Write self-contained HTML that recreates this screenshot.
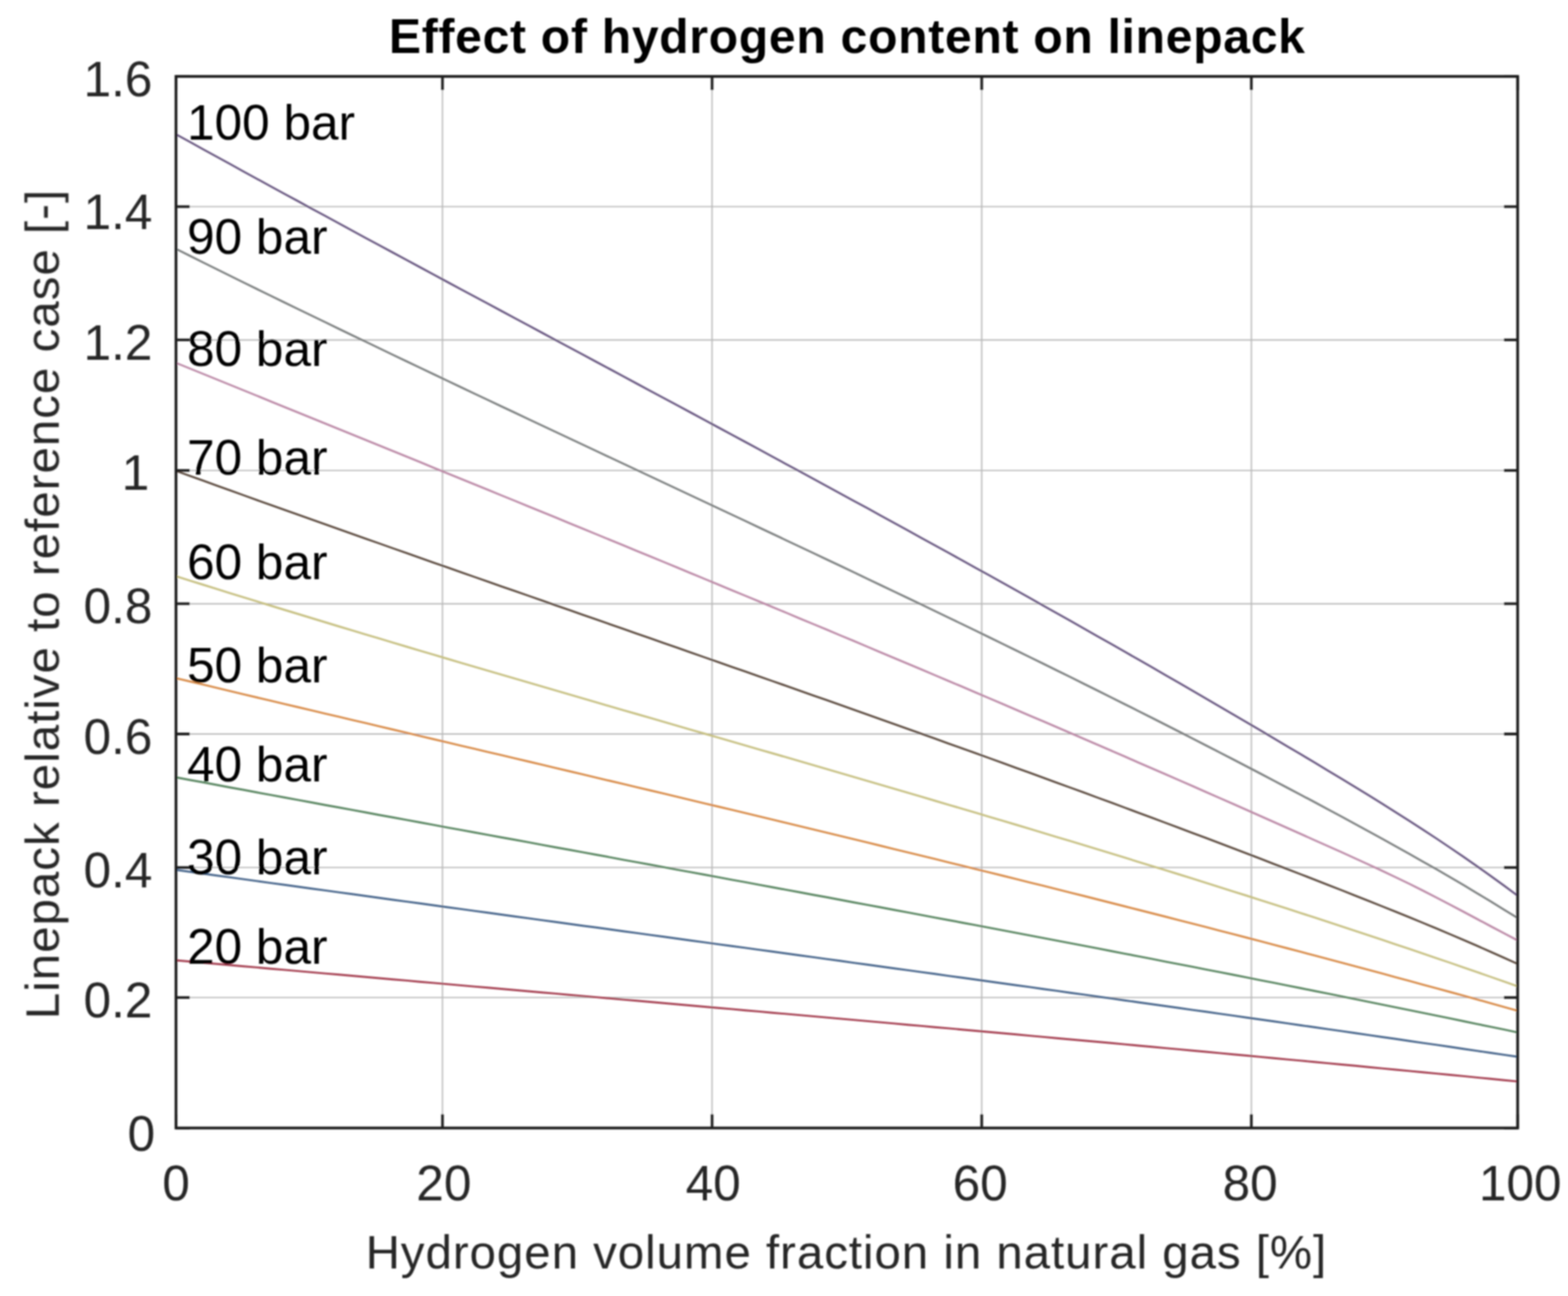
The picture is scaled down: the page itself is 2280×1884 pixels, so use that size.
<!DOCTYPE html><html><head><meta charset="utf-8"><title>Effect of hydrogen content on linepack</title>
<style>html,body{margin:0;padding:0;background:#fff;}svg{display:block;}text{font-family:"Liberation Sans",Arial,Helvetica,sans-serif;}</style></head><body>
<svg width="2280" height="1884" viewBox="0 0 2280 1884">
<rect x="0" y="0" width="2280" height="1884" fill="#fff"/>
<defs><filter id="b" x="-2%" y="-2%" width="104%" height="104%"><feGaussianBlur stdDeviation="1.1"/></filter></defs>
<g filter="url(#b)">
<path d="M643.4 111.1V1639.8M1035.4 111.1V1639.8M1427.5 111.1V1639.8M1819.6 111.1V1639.8M255.9 300.4H2206.8M255.9 494.2H2206.8M255.9 683.9H2206.8M255.9 877.7H2206.8M255.9 1067.0H2206.8M255.9 1261.1H2206.8M255.9 1450.1H2206.8" stroke="#b9b9b9" stroke-width="1.9" fill="none"/>
<path d="M255.9 195.2 L275.6 206.1 L295.3 217.0 L315.0 227.8 L334.7 238.6 L354.4 249.4 L374.1 260.2 L393.8 271.0 L413.5 281.7 L433.3 292.4 L453.0 303.2 L472.7 313.8 L492.4 324.5 L512.1 335.2 L531.8 345.9 L551.5 356.5 L571.2 367.1 L590.9 377.8 L610.6 388.4 L630.3 399.0 L650.0 409.6 L669.7 420.2 L689.4 430.8 L709.1 441.3 L728.8 451.9 L748.6 462.5 L768.3 473.0 L788.0 483.6 L807.7 494.2 L827.4 504.7 L847.1 515.3 L866.8 525.9 L886.5 536.4 L906.2 547.0 L925.9 557.6 L945.6 568.2 L965.3 578.7 L985.0 589.3 L1004.7 599.9 L1024.4 610.5 L1044.1 621.1 L1063.8 631.8 L1083.6 642.4 L1103.3 653.0 L1123.0 663.7 L1142.7 674.4 L1162.4 685.0 L1182.1 695.7 L1201.8 706.4 L1221.5 717.2 L1241.2 727.9 L1260.9 738.6 L1280.6 749.4 L1300.3 760.2 L1320.0 771.0 L1339.7 781.9 L1359.4 792.7 L1379.1 803.6 L1398.9 814.5 L1418.6 825.4 L1438.3 836.3 L1458.0 847.3 L1477.7 858.3 L1497.4 869.3 L1517.1 880.4 L1536.8 891.4 L1556.5 902.6 L1576.2 913.7 L1595.9 924.9 L1615.6 936.1 L1635.3 947.3 L1655.0 958.6 L1674.7 969.8 L1694.4 981.2 L1714.1 992.5 L1733.9 1003.9 L1753.6 1015.4 L1773.3 1026.9 L1793.0 1038.4 L1812.7 1049.9 L1832.4 1061.5 L1852.1 1073.2 L1871.8 1084.9 L1891.5 1096.6 L1911.2 1108.3 L1930.9 1120.2 L1950.6 1132.0 L1970.3 1144.0 L1990.0 1156.1 L2009.7 1168.3 L2029.4 1180.7 L2049.2 1193.2 L2068.9 1206.0 L2088.6 1218.9 L2108.3 1232.1 L2128.0 1245.5 L2147.7 1259.2 L2167.4 1273.2 L2187.1 1287.5 L2206.8 1302.1" stroke="#685680" stroke-width="2.9" fill="none" stroke-linejoin="round"/>
<path d="M255.9 361.8 L275.6 371.6 L295.3 381.5 L315.0 391.2 L334.7 401.0 L354.4 410.7 L374.1 420.4 L393.8 430.0 L413.5 439.6 L433.3 449.2 L453.0 458.8 L472.7 468.3 L492.4 477.9 L512.1 487.4 L531.8 496.8 L551.5 506.3 L571.2 515.7 L590.9 525.1 L610.6 534.5 L630.3 543.9 L650.0 553.3 L669.7 562.6 L689.4 572.0 L709.1 581.3 L728.8 590.6 L748.6 599.9 L768.3 609.2 L788.0 618.5 L807.7 627.7 L827.4 637.0 L847.1 646.3 L866.8 655.5 L886.5 664.8 L906.2 674.0 L925.9 683.3 L945.6 692.5 L965.3 701.8 L985.0 711.0 L1004.7 720.3 L1024.4 729.5 L1044.1 738.8 L1063.8 748.0 L1083.6 757.3 L1103.3 766.6 L1123.0 775.9 L1142.7 785.2 L1162.4 794.5 L1182.1 803.8 L1201.8 813.1 L1221.5 822.4 L1241.2 831.8 L1260.9 841.2 L1280.6 850.6 L1300.3 860.0 L1320.0 869.4 L1339.7 878.8 L1359.4 888.3 L1379.1 897.8 L1398.9 907.3 L1418.6 916.8 L1438.3 926.4 L1458.0 936.0 L1477.7 945.6 L1497.4 955.2 L1517.1 964.9 L1536.8 974.6 L1556.5 984.3 L1576.2 994.1 L1595.9 1003.9 L1615.6 1013.7 L1635.3 1023.6 L1655.0 1033.5 L1674.7 1043.4 L1694.4 1053.4 L1714.1 1063.4 L1733.9 1073.5 L1753.6 1083.6 L1773.3 1093.7 L1793.0 1103.9 L1812.7 1114.1 L1832.4 1124.4 L1852.1 1134.7 L1871.8 1145.1 L1891.5 1155.5 L1911.2 1165.9 L1930.9 1176.5 L1950.6 1187.0 L1970.3 1197.7 L1990.0 1208.4 L2009.7 1219.2 L2029.4 1230.2 L2049.2 1241.2 L2068.9 1252.4 L2088.6 1263.6 L2108.3 1275.1 L2128.0 1286.6 L2147.7 1298.4 L2167.4 1310.3 L2187.1 1322.4 L2206.8 1334.6" stroke="#7a7e7e" stroke-width="2.9" fill="none" stroke-linejoin="round"/>
<path d="M255.9 527.5 L275.6 535.5 L295.3 543.5 L315.0 551.5 L334.7 559.5 L354.4 567.5 L374.1 575.5 L393.8 583.6 L413.5 591.6 L433.3 599.6 L453.0 607.6 L472.7 615.6 L492.4 623.6 L512.1 631.6 L531.8 639.6 L551.5 647.7 L571.2 655.7 L590.9 663.7 L610.6 671.7 L630.3 679.8 L650.0 687.8 L669.7 695.8 L689.4 703.9 L709.1 711.9 L728.8 720.0 L748.6 728.0 L768.3 736.1 L788.0 744.2 L807.7 752.2 L827.4 760.3 L847.1 768.4 L866.8 776.5 L886.5 784.6 L906.2 792.7 L925.9 800.8 L945.6 808.9 L965.3 817.0 L985.0 825.2 L1004.7 833.3 L1024.4 841.5 L1044.1 849.6 L1063.8 857.8 L1083.6 866.0 L1103.3 874.1 L1123.0 882.3 L1142.7 890.5 L1162.4 898.8 L1182.1 907.0 L1201.8 915.2 L1221.5 923.5 L1241.2 931.7 L1260.9 940.0 L1280.6 948.3 L1300.3 956.6 L1320.0 964.9 L1339.7 973.2 L1359.4 981.5 L1379.1 989.9 L1398.9 998.2 L1418.6 1006.6 L1438.3 1015.0 L1458.0 1023.4 L1477.7 1031.8 L1497.4 1040.3 L1517.1 1048.7 L1536.8 1057.2 L1556.5 1065.6 L1576.2 1074.1 L1595.9 1082.6 L1615.6 1091.2 L1635.3 1099.7 L1655.0 1108.3 L1674.7 1116.8 L1694.4 1125.4 L1714.1 1134.0 L1733.9 1142.7 L1753.6 1151.3 L1773.3 1160.0 L1793.0 1168.7 L1812.7 1177.4 L1832.4 1186.1 L1852.1 1194.8 L1871.8 1203.6 L1891.5 1212.4 L1911.2 1221.2 L1930.9 1230.0 L1950.6 1238.8 L1970.3 1247.7 L1990.0 1256.7 L2009.7 1265.9 L2029.4 1275.2 L2049.2 1284.7 L2068.9 1294.6 L2088.6 1304.7 L2108.3 1315.0 L2128.0 1325.4 L2147.7 1335.9 L2167.4 1346.4 L2187.1 1356.8 L2206.8 1367.1" stroke="#bb88a6" stroke-width="2.9" fill="none" stroke-linejoin="round"/>
<path d="M255.9 684.5 L275.6 691.6 L295.3 698.7 L315.0 705.8 L334.7 712.9 L354.4 720.0 L374.1 727.1 L393.8 734.1 L413.5 741.2 L433.3 748.2 L453.0 755.2 L472.7 762.2 L492.4 769.2 L512.1 776.1 L531.8 783.1 L551.5 790.0 L571.2 797.0 L590.9 803.9 L610.6 810.9 L630.3 817.8 L650.0 824.7 L669.7 831.6 L689.4 838.5 L709.1 845.4 L728.8 852.3 L748.6 859.2 L768.3 866.0 L788.0 872.9 L807.7 879.8 L827.4 886.7 L847.1 893.6 L866.8 900.4 L886.5 907.3 L906.2 914.2 L925.9 921.1 L945.6 927.9 L965.3 934.8 L985.0 941.7 L1004.7 948.6 L1024.4 955.5 L1044.1 962.4 L1063.8 969.3 L1083.6 976.2 L1103.3 983.1 L1123.0 990.0 L1142.7 996.9 L1162.4 1003.8 L1182.1 1010.8 L1201.8 1017.7 L1221.5 1024.7 L1241.2 1031.7 L1260.9 1038.6 L1280.6 1045.6 L1300.3 1052.6 L1320.0 1059.6 L1339.7 1066.7 L1359.4 1073.7 L1379.1 1080.8 L1398.9 1087.8 L1418.6 1094.9 L1438.3 1102.0 L1458.0 1109.1 L1477.7 1116.3 L1497.4 1123.4 L1517.1 1130.6 L1536.8 1137.8 L1556.5 1145.0 L1576.2 1152.2 L1595.9 1159.5 L1615.6 1166.7 L1635.3 1174.0 L1655.0 1181.3 L1674.7 1188.7 L1694.4 1196.0 L1714.1 1203.4 L1733.9 1210.8 L1753.6 1218.2 L1773.3 1225.7 L1793.0 1233.2 L1812.7 1240.7 L1832.4 1248.2 L1852.1 1255.8 L1871.8 1263.4 L1891.5 1271.0 L1911.2 1278.6 L1930.9 1286.3 L1950.6 1294.0 L1970.3 1301.8 L1990.0 1309.6 L2009.7 1317.5 L2029.4 1325.4 L2049.2 1333.4 L2068.9 1341.5 L2088.6 1349.7 L2108.3 1358.0 L2128.0 1366.4 L2147.7 1374.9 L2167.4 1383.6 L2187.1 1392.3 L2206.8 1401.2" stroke="#5a483c" stroke-width="2.9" fill="none" stroke-linejoin="round"/>
<path d="M255.9 837.6 L275.6 843.8 L295.3 850.0 L315.0 856.1 L334.7 862.3 L354.4 868.4 L374.1 874.4 L393.8 880.5 L413.5 886.5 L433.3 892.5 L453.0 898.5 L472.7 904.5 L492.4 910.5 L512.1 916.4 L531.8 922.3 L551.5 928.2 L571.2 934.1 L590.9 940.0 L610.6 945.8 L630.3 951.6 L650.0 957.5 L669.7 963.3 L689.4 969.1 L709.1 974.9 L728.8 980.6 L748.6 986.4 L768.3 992.2 L788.0 997.9 L807.7 1003.7 L827.4 1009.4 L847.1 1015.1 L866.8 1020.8 L886.5 1026.6 L906.2 1032.3 L925.9 1038.0 L945.6 1043.7 L965.3 1049.4 L985.0 1055.1 L1004.7 1060.8 L1024.4 1066.5 L1044.1 1072.2 L1063.8 1077.9 L1083.6 1083.6 L1103.3 1089.3 L1123.0 1095.0 L1142.7 1100.7 L1162.4 1106.4 L1182.1 1112.1 L1201.8 1117.9 L1221.5 1123.6 L1241.2 1129.3 L1260.9 1135.1 L1280.6 1140.8 L1300.3 1146.6 L1320.0 1152.4 L1339.7 1158.2 L1359.4 1164.0 L1379.1 1169.8 L1398.9 1175.6 L1418.6 1181.4 L1438.3 1187.3 L1458.0 1193.1 L1477.7 1199.0 L1497.4 1204.9 L1517.1 1210.8 L1536.8 1216.8 L1556.5 1222.7 L1576.2 1228.7 L1595.9 1234.7 L1615.6 1240.7 L1635.3 1246.7 L1655.0 1252.8 L1674.7 1258.8 L1694.4 1264.9 L1714.1 1271.0 L1733.9 1277.2 L1753.6 1283.4 L1773.3 1289.6 L1793.0 1295.8 L1812.7 1302.0 L1832.4 1308.3 L1852.1 1314.6 L1871.8 1320.9 L1891.5 1327.3 L1911.2 1333.7 L1930.9 1340.1 L1950.6 1346.6 L1970.3 1353.1 L1990.0 1359.6 L2009.7 1366.2 L2029.4 1372.8 L2049.2 1379.4 L2068.9 1386.1 L2088.6 1392.8 L2108.3 1399.5 L2128.0 1406.3 L2147.7 1413.1 L2167.4 1420.0 L2187.1 1426.9 L2206.8 1433.8" stroke="#c6bf80" stroke-width="2.9" fill="none" stroke-linejoin="round"/>
<path d="M255.9 985.8 L275.6 990.5 L295.3 995.2 L315.0 999.9 L334.7 1004.6 L354.4 1009.3 L374.1 1014.0 L393.8 1018.6 L413.5 1023.3 L433.3 1028.0 L453.0 1032.6 L472.7 1037.3 L492.4 1041.9 L512.1 1046.6 L531.8 1051.2 L551.5 1055.9 L571.2 1060.5 L590.9 1065.2 L610.6 1069.8 L630.3 1074.5 L650.0 1079.1 L669.7 1083.8 L689.4 1088.4 L709.1 1093.1 L728.8 1097.7 L748.6 1102.4 L768.3 1107.0 L788.0 1111.7 L807.7 1116.4 L827.4 1121.0 L847.1 1125.7 L866.8 1130.3 L886.5 1135.0 L906.2 1139.7 L925.9 1144.4 L945.6 1149.0 L965.3 1153.7 L985.0 1158.4 L1004.7 1163.1 L1024.4 1167.8 L1044.1 1172.5 L1063.8 1177.2 L1083.6 1181.9 L1103.3 1186.7 L1123.0 1191.4 L1142.7 1196.1 L1162.4 1200.9 L1182.1 1205.6 L1201.8 1210.4 L1221.5 1215.1 L1241.2 1219.9 L1260.9 1224.7 L1280.6 1229.5 L1300.3 1234.3 L1320.0 1239.1 L1339.7 1243.9 L1359.4 1248.7 L1379.1 1253.6 L1398.9 1258.4 L1418.6 1263.3 L1438.3 1268.1 L1458.0 1273.0 L1477.7 1277.9 L1497.4 1282.8 L1517.1 1287.7 L1536.8 1292.6 L1556.5 1297.6 L1576.2 1302.5 L1595.9 1307.5 L1615.6 1312.5 L1635.3 1317.5 L1655.0 1322.5 L1674.7 1327.5 L1694.4 1332.5 L1714.1 1337.6 L1733.9 1342.6 L1753.6 1347.7 L1773.3 1352.8 L1793.0 1357.9 L1812.7 1363.0 L1832.4 1368.2 L1852.1 1373.3 L1871.8 1378.5 L1891.5 1383.7 L1911.2 1388.9 L1930.9 1394.1 L1950.6 1399.4 L1970.3 1404.7 L1990.0 1409.9 L2009.7 1415.2 L2029.4 1420.6 L2049.2 1425.9 L2068.9 1431.3 L2088.6 1436.6 L2108.3 1442.0 L2128.0 1447.4 L2147.7 1452.9 L2167.4 1458.3 L2187.1 1463.8 L2206.8 1469.3" stroke="#d88a46" stroke-width="2.9" fill="none" stroke-linejoin="round"/>
<path d="M255.9 1130.0 L275.6 1133.7 L295.3 1137.3 L315.0 1141.0 L334.7 1144.7 L354.4 1148.3 L374.1 1152.0 L393.8 1155.6 L413.5 1159.2 L433.3 1162.9 L453.0 1166.5 L472.7 1170.2 L492.4 1173.8 L512.1 1177.4 L531.8 1181.0 L551.5 1184.7 L571.2 1188.3 L590.9 1191.9 L610.6 1195.5 L630.3 1199.1 L650.0 1202.8 L669.7 1206.4 L689.4 1210.0 L709.1 1213.6 L728.8 1217.2 L748.6 1220.8 L768.3 1224.4 L788.0 1228.1 L807.7 1231.7 L827.4 1235.3 L847.1 1238.9 L866.8 1242.5 L886.5 1246.1 L906.2 1249.8 L925.9 1253.4 L945.6 1257.0 L965.3 1260.6 L985.0 1264.3 L1004.7 1267.9 L1024.4 1271.5 L1044.1 1275.1 L1063.8 1278.8 L1083.6 1282.4 L1103.3 1286.1 L1123.0 1289.7 L1142.7 1293.4 L1162.4 1297.0 L1182.1 1300.7 L1201.8 1304.3 L1221.5 1308.0 L1241.2 1311.7 L1260.9 1315.4 L1280.6 1319.0 L1300.3 1322.7 L1320.0 1326.4 L1339.7 1330.1 L1359.4 1333.8 L1379.1 1337.5 L1398.9 1341.2 L1418.6 1344.9 L1438.3 1348.7 L1458.0 1352.4 L1477.7 1356.1 L1497.4 1359.9 L1517.1 1363.6 L1536.8 1367.4 L1556.5 1371.2 L1576.2 1374.9 L1595.9 1378.7 L1615.6 1382.5 L1635.3 1386.3 L1655.0 1390.1 L1674.7 1393.9 L1694.4 1397.8 L1714.1 1401.6 L1733.9 1405.4 L1753.6 1409.3 L1773.3 1413.1 L1793.0 1417.0 L1812.7 1420.9 L1832.4 1424.8 L1852.1 1428.7 L1871.8 1432.6 L1891.5 1436.5 L1911.2 1440.5 L1930.9 1444.4 L1950.6 1448.4 L1970.3 1452.3 L1990.0 1456.3 L2009.7 1460.3 L2029.4 1464.3 L2049.2 1468.3 L2068.9 1472.3 L2088.6 1476.4 L2108.3 1480.4 L2128.0 1484.5 L2147.7 1488.6 L2167.4 1492.6 L2187.1 1496.7 L2206.8 1500.9" stroke="#56845e" stroke-width="2.9" fill="none" stroke-linejoin="round"/>
<path d="M255.9 1264.5 L275.6 1267.2 L295.3 1270.0 L315.0 1272.7 L334.7 1275.4 L354.4 1278.1 L374.1 1280.9 L393.8 1283.6 L413.5 1286.3 L433.3 1289.0 L453.0 1291.7 L472.7 1294.4 L492.4 1297.1 L512.1 1299.8 L531.8 1302.5 L551.5 1305.2 L571.2 1308.0 L590.9 1310.6 L610.6 1313.3 L630.3 1316.0 L650.0 1318.7 L669.7 1321.4 L689.4 1324.1 L709.1 1326.8 L728.8 1329.5 L748.6 1332.2 L768.3 1334.9 L788.0 1337.6 L807.7 1340.3 L827.4 1343.0 L847.1 1345.7 L866.8 1348.3 L886.5 1351.0 L906.2 1353.7 L925.9 1356.4 L945.6 1359.1 L965.3 1361.8 L985.0 1364.5 L1004.7 1367.2 L1024.4 1369.9 L1044.1 1372.6 L1063.8 1375.3 L1083.6 1377.9 L1103.3 1380.6 L1123.0 1383.3 L1142.7 1386.0 L1162.4 1388.7 L1182.1 1391.4 L1201.8 1394.1 L1221.5 1396.8 L1241.2 1399.6 L1260.9 1402.3 L1280.6 1405.0 L1300.3 1407.7 L1320.0 1410.4 L1339.7 1413.1 L1359.4 1415.8 L1379.1 1418.6 L1398.9 1421.3 L1418.6 1424.0 L1438.3 1426.7 L1458.0 1429.5 L1477.7 1432.2 L1497.4 1434.9 L1517.1 1437.7 L1536.8 1440.4 L1556.5 1443.2 L1576.2 1445.9 L1595.9 1448.7 L1615.6 1451.4 L1635.3 1454.2 L1655.0 1457.0 L1674.7 1459.7 L1694.4 1462.5 L1714.1 1465.3 L1733.9 1468.1 L1753.6 1470.8 L1773.3 1473.6 L1793.0 1476.4 L1812.7 1479.2 L1832.4 1482.0 L1852.1 1484.8 L1871.8 1487.6 L1891.5 1490.5 L1911.2 1493.3 L1930.9 1496.1 L1950.6 1498.9 L1970.3 1501.8 L1990.0 1504.6 L2009.7 1507.5 L2029.4 1510.3 L2049.2 1513.2 L2068.9 1516.1 L2088.6 1518.9 L2108.3 1521.8 L2128.0 1524.7 L2147.7 1527.6 L2167.4 1530.5 L2187.1 1533.4 L2206.8 1536.3" stroke="#45648a" stroke-width="2.9" fill="none" stroke-linejoin="round"/>
<path d="M255.9 1396.0 L275.6 1397.7 L295.3 1399.5 L315.0 1401.2 L334.7 1403.0 L354.4 1404.7 L374.1 1406.4 L393.8 1408.2 L413.5 1409.9 L433.3 1411.6 L453.0 1413.4 L472.7 1415.1 L492.4 1416.8 L512.1 1418.5 L531.8 1420.3 L551.5 1422.0 L571.2 1423.7 L590.9 1425.4 L610.6 1427.2 L630.3 1428.9 L650.0 1430.6 L669.7 1432.4 L689.4 1434.1 L709.1 1435.8 L728.8 1437.5 L748.6 1439.3 L768.3 1441.0 L788.0 1442.7 L807.7 1444.4 L827.4 1446.2 L847.1 1447.9 L866.8 1449.6 L886.5 1451.3 L906.2 1453.1 L925.9 1454.8 L945.6 1456.5 L965.3 1458.3 L985.0 1460.0 L1004.7 1461.7 L1024.4 1463.5 L1044.1 1465.2 L1063.8 1466.9 L1083.6 1468.7 L1103.3 1470.4 L1123.0 1472.2 L1142.7 1473.9 L1162.4 1475.6 L1182.1 1477.4 L1201.8 1479.1 L1221.5 1480.9 L1241.2 1482.6 L1260.9 1484.4 L1280.6 1486.1 L1300.3 1487.9 L1320.0 1489.7 L1339.7 1491.4 L1359.4 1493.2 L1379.1 1494.9 L1398.9 1496.7 L1418.6 1498.5 L1438.3 1500.3 L1458.0 1502.0 L1477.7 1503.8 L1497.4 1505.6 L1517.1 1507.4 L1536.8 1509.2 L1556.5 1511.0 L1576.2 1512.8 L1595.9 1514.5 L1615.6 1516.3 L1635.3 1518.1 L1655.0 1520.0 L1674.7 1521.8 L1694.4 1523.6 L1714.1 1525.4 L1733.9 1527.2 L1753.6 1529.0 L1773.3 1530.9 L1793.0 1532.7 L1812.7 1534.5 L1832.4 1536.4 L1852.1 1538.2 L1871.8 1540.1 L1891.5 1541.9 L1911.2 1543.8 L1930.9 1545.6 L1950.6 1547.5 L1970.3 1549.3 L1990.0 1551.2 L2009.7 1553.1 L2029.4 1555.0 L2049.2 1556.9 L2068.9 1558.7 L2088.6 1560.6 L2108.3 1562.5 L2128.0 1564.4 L2147.7 1566.4 L2167.4 1568.3 L2187.1 1570.2 L2206.8 1572.1" stroke="#a43e50" stroke-width="2.9" fill="none" stroke-linejoin="round"/>
<path d="M255.9 1639.8V1619.8M255.9 111.1V131.1M643.4 1639.8V1619.8M643.4 111.1V131.1M1035.4 1639.8V1619.8M1035.4 111.1V131.1M1427.5 1639.8V1619.8M1427.5 111.1V131.1M1819.6 1639.8V1619.8M1819.6 111.1V131.1M2206.8 1639.8V1619.8M2206.8 111.1V131.1M255.9 111.1H275.9M2206.8 111.1H2186.8M255.9 300.4H275.9M2206.8 300.4H2186.8M255.9 494.2H275.9M2206.8 494.2H2186.8M255.9 683.9H275.9M2206.8 683.9H2186.8M255.9 877.7H275.9M2206.8 877.7H2186.8M255.9 1067.0H275.9M2206.8 1067.0H2186.8M255.9 1261.1H275.9M2206.8 1261.1H2186.8M255.9 1450.1H275.9M2206.8 1450.1H2186.8M255.9 1639.8H275.9M2206.8 1639.8H2186.8" stroke="#1e1e1e" stroke-width="3.8" fill="none"/>
<rect x="255.9" y="111.1" width="1950.9" height="1528.7" stroke="#1e1e1e" stroke-width="4" fill="none"/>
<text x="256.1" y="1744.5" font-size="72" fill="#262626" text-anchor="middle">0</text>
<text x="645.4" y="1744.5" font-size="72" fill="#262626" text-anchor="middle">20</text>
<text x="1037.1" y="1744.5" font-size="72" fill="#262626" text-anchor="middle">40</text>
<text x="1425.3" y="1744.5" font-size="72" fill="#262626" text-anchor="middle">60</text>
<text x="1817.7" y="1744.5" font-size="72" fill="#262626" text-anchor="middle">80</text>
<text x="2210.6" y="1744.5" font-size="72" fill="#262626" text-anchor="middle">100</text>
<text x="221.5" y="139.6" font-size="72" fill="#262626" text-anchor="end">1.6</text>
<text x="221.5" y="332.9" font-size="72" fill="#262626" text-anchor="end">1.4</text>
<text x="221.5" y="522.7" font-size="72" fill="#262626" text-anchor="end">1.2</text>
<text x="217.0" y="712.4" font-size="72" fill="#262626" text-anchor="end">1</text>
<text x="221.5" y="906.2" font-size="72" fill="#262626" text-anchor="end">0.8</text>
<text x="221.5" y="1095.5" font-size="72" fill="#262626" text-anchor="end">0.6</text>
<text x="221.5" y="1289.6" font-size="72" fill="#262626" text-anchor="end">0.4</text>
<text x="221.5" y="1478.6" font-size="72" fill="#262626" text-anchor="end">0.2</text>
<text x="225.5" y="1673.2" font-size="72" fill="#262626" text-anchor="end">0</text>
<text x="272" y="202.6" font-size="72" fill="#000">100 bar</text>
<text x="272" y="369.1" font-size="72" fill="#000">90 bar</text>
<text x="272" y="531.9" font-size="72" fill="#000">80 bar</text>
<text x="272" y="690.3" font-size="72" fill="#000">70 bar</text>
<text x="272" y="841.9" font-size="72" fill="#000">60 bar</text>
<text x="272" y="991.7" font-size="72" fill="#000">50 bar</text>
<text x="272" y="1135.7" font-size="72" fill="#000">40 bar</text>
<text x="272" y="1270.7" font-size="72" fill="#000">30 bar</text>
<text x="272" y="1401.0" font-size="72" fill="#000">20 bar</text>
<text x="1230.7" y="1844.2" font-size="69" letter-spacing="1.386" fill="#262626" text-anchor="middle">Hydrogen volume fraction in natural gas [%]</text>
<text transform="translate(85.5 878.1) rotate(-90)" x="0" y="0" font-size="69" letter-spacing="1.447" fill="#262626" text-anchor="middle">Linepack relative to reference case [-]</text>
<text x="1232" y="76.5" font-size="70" letter-spacing="1.0" font-weight="bold" fill="#000" text-anchor="middle">Effect of hydrogen content on linepack</text>
</g>
</svg></body></html>
